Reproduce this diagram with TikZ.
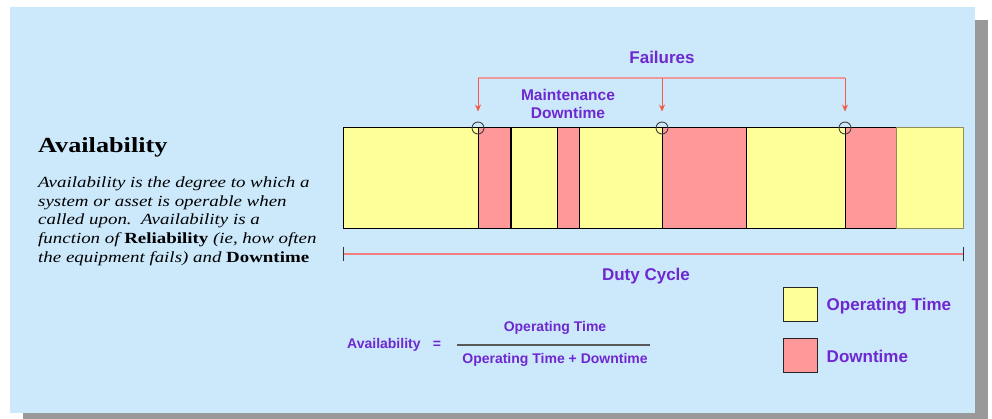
\documentclass[tikz,border=0pt]{standalone}
\usepackage{fontspec}
\setmainfont{Liberation Sans}
\newfontfamily\serifbody[FakeStretch=1.22]{Liberation Serif}
\usetikzlibrary{arrows.meta}

\definecolor{panelblue}{HTML}{CCE9FC}
\definecolor{shadowgray}{HTML}{999999}
\definecolor{optime}{HTML}{FFFF99}
\definecolor{downtime}{HTML}{FF9999}
\definecolor{labelpurple}{HTML}{6E28D0}
\definecolor{failred}{HTML}{F25A4A}
\definecolor{bracketred}{HTML}{EE9A9A}
\definecolor{dutyred}{HTML}{F08080}
\definecolor{lastedge}{HTML}{8E8E58}

\begin{document}
\begin{tikzpicture}[x=1pt,y=-1pt,
  seg/.style={draw=black,line width=1pt,inner sep=0pt,outer sep=0pt,
    anchor=north west,minimum height=101pt},
  opseg/.style={seg,fill=optime},
  dnseg/.style={seg,fill=downtime},
  failmark/.style={circle,draw=black!75,line width=0.9pt,inner sep=0pt,
    minimum size=12pt},
  failarrow/.style={draw=failred,line width=1pt,
    -{Stealth[length=7pt,width=6pt]}},
  bracket/.style={draw=bracketred,line width=1.6pt},
  purplelabel/.style={text=labelpurple,font=\bfseries},
  legendbox/.style={draw=black!85,line width=1.2pt,minimum size=34pt,
    inner sep=0pt,anchor=north west},
]
\useasboundingbox (0,0) rectangle (992,419);
\fill[white] (0,0) rectangle (992,419);
% drop shadow and panel
\fill[shadowgray] (23,20) rectangle (988,419);
\fill[panelblue] (10,7) rectangle (975,413);

% heading and description
\node[anchor=base west,inner sep=0pt,font={\serifbody\bfseries\fontsize{21.5}{24}\selectfont}]
  (title) at (38,153) {Availability};
\node[anchor=north west,inner sep=0pt,align=left,
  font={\serifbody\itshape\fontsize{15.5}{18.75}\selectfont}]
  (desc) at (38,176.5)
  {Availability is the degree to which a\\
   system or asset is operable when\\
   called upon.\ \ Availability is a\\
   function of {\upshape\bfseries Reliability} (ie, how often\\
   the equipment fails) and {\upshape\bfseries Downtime}};

% duty cycle bar
\node[opseg,minimum width=135pt] (s1) at (343,128) {};
\node[dnseg,minimum width=32pt]  (s2) at (478,128) {};
\node[opseg,minimum width=45.5pt] (s3) at (511.5,128) {};
\node[dnseg,minimum width=22pt]  (s4) at (557,128) {};
\node[opseg,minimum width=83pt]  (s5) at (579,128) {};
\node[dnseg,minimum width=84pt]  (s6) at (662,128) {};
\node[opseg,minimum width=99pt]  (s7) at (746,128) {};
\node[dnseg,minimum width=51pt]  (s8) at (845,128) {};
\node[opseg,draw=lastedge,minimum width=67pt] (s9) at (896,128) {};

% failure points
\node[failmark] (f1) at (s2.north west) {};
\node[failmark] (f2) at (s6.north west) {};
\node[failmark] (f3) at (s8.north west) {};

% failures bracket
\coordinate (brk) at (0,78);
\draw[bracket] (f1 |- brk) -- (f3 |- brk);
\draw[failarrow] (f1 |- brk) -- ([yshift=10pt]f1.north);
\draw[failarrow] (f2 |- brk) -- ([yshift=10pt]f2.north);
\draw[failarrow] (f3 |- brk) -- ([yshift=10pt]f3.north);
\node[purplelabel,font={\bfseries\fontsize{17}{20}\selectfont}] (fail) at (662,57) {Failures};
\node[purplelabel,align=center,font={\bfseries\fontsize{15.5}{18}\selectfont}]
  (maint) at (568,104) {Maintenance\\Downtime};

% duty cycle span
\coordinate (dutyrow) at (0,254);
\coordinate (dl) at (s1.south west |- dutyrow);
\coordinate (dr) at (s9.south east |- dutyrow);
\draw[draw=dutyred,line width=1.4pt] (dl) -- (dr);
\draw[black!80,line width=1pt] ([yshift=7pt]dl) -- ([yshift=-7pt]dl);
\draw[black!80,line width=1pt] ([yshift=7pt]dr) -- ([yshift=-7pt]dr);
\node[purplelabel,font={\bfseries\fontsize{17}{20}\selectfont}] (duty) at (646,276) {Duty Cycle};

% legend
\node[legendbox,fill=optime] (lgop) at (783,287) {};
\node[legendbox,fill=downtime] (lgdn) at (783,338) {};
\node[purplelabel,anchor=west,font={\bfseries\fontsize{17}{20}\selectfont}]
  (lgoptext) at ([xshift=5pt,yshift=-2pt]lgop.east) {Operating Time};
\node[purplelabel,anchor=west,font={\bfseries\fontsize{17}{20}\selectfont}]
  (lgdntext) at ([xshift=5pt,yshift=-1pt]lgdn.east) {Downtime};

% availability formula
\node[purplelabel,anchor=west,inner sep=0pt,font={\bfseries\fontsize{14}{16}\selectfont}]
  (avail) at (347,345) {Availability};
\node[purplelabel,font={\bfseries\fontsize{14}{16}\selectfont}] (eq) at (437,345) {=};
\coordinate (fracl) at (457,345);
\coordinate (fracr) at (650,345);
\draw[black!65,line width=1.3pt] (fracl) -- (fracr);
\node[purplelabel,font={\bfseries\fontsize{14}{16}\selectfont}] (num) at (555,328) {Operating Time};
\node[purplelabel,font={\bfseries\fontsize{14}{16}\selectfont}] (den) at (555,360) {Operating Time + Downtime};
\end{tikzpicture}
\end{document}
